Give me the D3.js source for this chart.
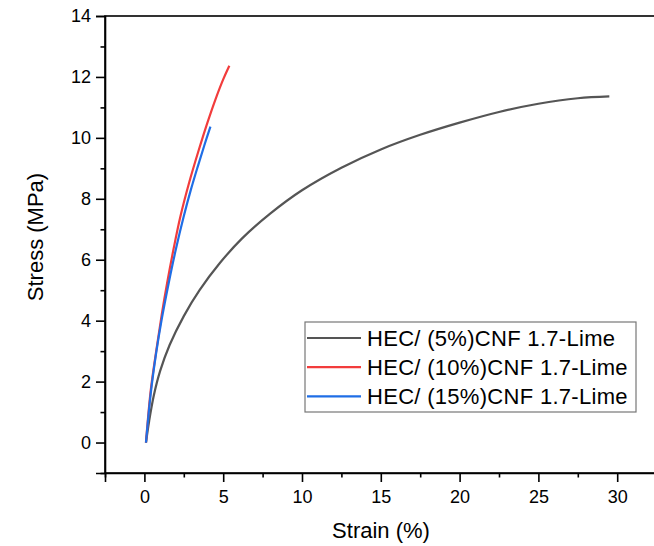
<!DOCTYPE html>
<html>
<head>
<meta charset="utf-8">
<script src="https://cdn.jsdelivr.net/npm/d3@7"></script>
<style>
  body { margin: 0; background: #fff; }
  svg { display: block; font-family: "Liberation Sans", Arial, sans-serif; }
</style>
</head>
<body>
<script>
// Data (strain in %, stress in MPa)
const strain5  = [0.1, 0.3, 0.6, 1.0, 1.6, 2.5, 3.5, 4.8, 6.2, 8, 10, 12.5, 15, 17.5, 20, 22.5, 25, 27.5, 29.5];
const stress5  = [0, 0.7, 1.55, 2.35, 3.2, 4.15, 5.0, 5.9, 6.7, 7.52, 8.28, 9.02, 9.62, 10.1, 10.5, 10.85, 11.12, 11.3, 11.36];
const strain10 = [0.1, 0.4, 0.76, 1.1, 1.44, 1.85, 2.28, 2.85, 3.45, 4.0, 4.5, 5.0, 5.39];
const stress10 = [0, 1.7, 3.04, 4.2, 5.23, 6.35, 7.41, 8.55, 9.6, 10.5, 11.25, 11.92, 12.37];
const strain15 = [0.1, 0.4, 0.75, 1.1, 1.54, 2.0, 2.49, 2.95, 3.38, 3.8, 4.19];
const stress15 = [0, 1.6, 2.95, 4.05, 5.23, 6.35, 7.41, 8.3, 9.05, 9.75, 10.37];

const seriesNames = ["HEC/ (5%)CNF 1.7-Lime", "HEC/ (10%)CNF 1.7-Lime", "HEC/ (15%)CNF 1.7-Lime"];
const seriesColors = ["#555555", "#f23c3c", "#1f6ee6"];

const xMajor = [0, 5, 10, 15, 20, 25, 30];
const xMinor = [-2.5, 2.5, 7.5, 12.5, 17.5, 22.5, 27.5, 32.5];
const yMajor = [0, 2, 4, 6, 8, 10, 12, 14];
const yMinor = [-1, 1, 3, 5, 7, 9, 11, 13];

// Dimensions
const margin = { top: 16, left: 105 },
      width = 591,   // plot box runs past the right edge of the picture
      height = 457;

const svg = d3.select("body")
  .append("svg")
  .attr("width", 654)
  .attr("height", 546);

const g = svg.append("g")
  .attr("transform", `translate(${margin.left},${margin.top})`);

// Scales
const x = d3.scaleLinear().domain([-2.5, 35]).range([0, width]);
const y = d3.scaleLinear().domain([-1, 14]).range([height, 0]);

// Frame (top and right)
g.append("rect")
  .attr("x", 0).attr("y", 0)
  .attr("width", width).attr("height", height)
  .attr("fill", "none")
  .attr("stroke", "#000")
  .attr("stroke-width", 1.6);

// X axis
g.append("g")
  .attr("transform", `translate(0,${height})`)
  .call(d3.axisBottom(x).tickValues(xMajor).tickSize(9).tickPadding(8).tickFormat(d3.format("d")));
g.append("g")
  .attr("transform", `translate(0,${height})`)
  .call(d3.axisBottom(x).tickValues(xMinor).tickSize(4.5).tickFormat(""))
  .select(".domain").remove();

// Y axis
g.append("g")
  .call(d3.axisLeft(y).tickValues(yMajor).tickSize(9).tickPadding(5).tickFormat(d3.format("d")));
g.append("g")
  .call(d3.axisLeft(y).tickValues(yMinor).tickSize(4.5).tickFormat(""))
  .select(".domain").remove();

g.selectAll(".domain, .tick line")
  .attr("stroke", "#000")
  .attr("stroke-width", 1.6);
g.selectAll(".tick text")
  .attr("fill", "#000")
  .style("font-size", "18px")
  .style("font-family", "'Liberation Sans', Arial, sans-serif");

// Axis titles
svg.append("text")
  .attr("x", 381)
  .attr("y", 538)
  .attr("text-anchor", "middle")
  .style("font-size", "22px")
  .text("Strain (%)");

svg.append("text")
  .attr("transform", "rotate(-90)")
  .attr("x", -237)
  .attr("y", 43)
  .attr("text-anchor", "middle")
  .style("font-size", "22px")
  .text("Stress (MPa)");

// Curves
const series = [
  { xs: strain5,  ys: stress5 },
  { xs: strain10, ys: stress10 },
  { xs: strain15, ys: stress15 }
];

const line = d3.line()
  .x(d => x(d[0]))
  .y(d => y(d[1]))
  .curve(d3.curveCatmullRom.alpha(0.5));

series.forEach((s, i) => {
  g.append("path")
    .datum(s.xs.map((v, j) => [v, s.ys[j]]))
    .attr("fill", "none")
    .attr("stroke", seriesColors[i])
    .attr("stroke-width", 2.2)
    .attr("d", line);
});

// Legend
const legend = svg.append("g").attr("transform", "translate(305,322)");
legend.append("rect")
  .attr("width", 331)
  .attr("height", 90)
  .attr("fill", "#fff")
  .attr("stroke", "#777")
  .attr("stroke-width", 1.2);

seriesNames.forEach((name, i) => {
  const row = legend.append("g").attr("transform", `translate(0,${16 + i * 29.2})`);
  row.append("line")
    .attr("x1", 2).attr("x2", 56)
    .attr("stroke", seriesColors[i])
    .attr("stroke-width", 2.2);
  row.append("text")
    .attr("x", 62)
    .attr("dy", "0.36em")
    .style("font-size", "22px")
    .style("letter-spacing", "0.3px")
    .text(name);
});
</script>
</body>
</html>
